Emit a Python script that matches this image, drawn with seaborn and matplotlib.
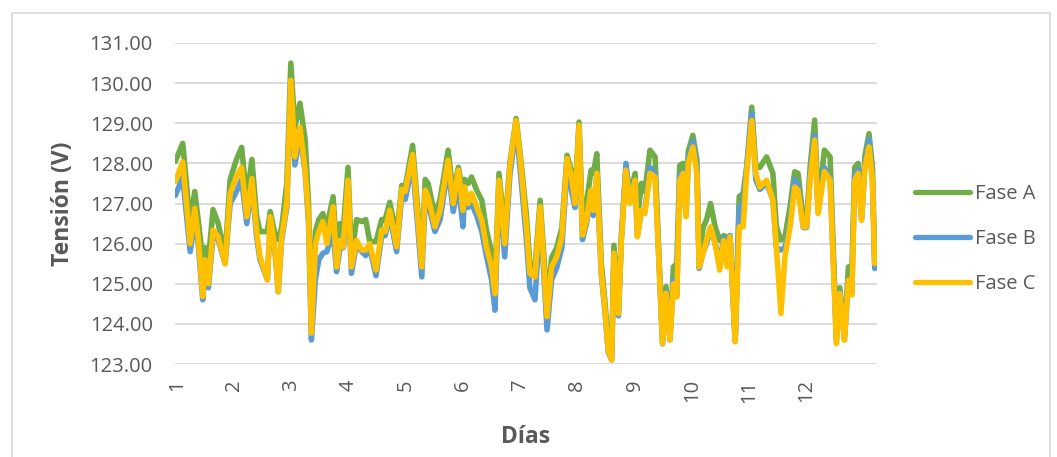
import numpy as np
import pandas as pd
import matplotlib
matplotlib.use('Agg')
import matplotlib.pyplot as plt
import matplotlib.patches as mpatches
import seaborn as sns

# Données (tension par phase, 12 jours)
dia = [0.97, 1.10, 1.23, 1.31, 1.37, 1.45, 1.49, 1.55, 1.63, 1.72, 1.84, 1.93,
       2.04, 2.13, 2.22, 2.31, 2.39, 2.45, 2.58, 2.63, 2.71, 2.77, 2.83, 2.92,
       2.99, 3.06, 3.15, 3.24, 3.30, 3.35, 3.42, 3.48, 3.55, 3.62, 3.73, 3.79,
       3.85, 3.91, 3.99, 4.05, 4.14, 4.23, 4.30, 4.37, 4.48, 4.58, 4.64, 4.72,
       4.84, 4.93, 4.99, 5.12, 5.28, 5.34, 5.39, 5.51, 5.60, 5.74, 5.83, 5.92,
       6.00, 6.03, 6.09, 6.15, 6.24, 6.33, 6.41, 6.50, 6.56, 6.63, 6.73, 6.82,
       6.93, 7.01, 7.11, 7.17, 7.26, 7.35, 7.42, 7.47, 7.55, 7.64, 7.73, 7.82,
       7.90, 7.96, 8.03, 8.09, 8.16, 8.24, 8.28, 8.34, 8.42, 8.48, 8.54, 8.60,
       8.64, 8.72, 8.77, 8.85, 8.92, 9.01, 9.05, 9.12, 9.18, 9.27, 9.36, 9.41,
       9.49, 9.55, 9.62, 9.68, 9.74, 9.79, 9.85, 9.90, 9.94, 10.02, 10.09, 10.13,
       10.20, 10.26, 10.33, 10.41, 10.49, 10.56, 10.62, 10.67, 10.76, 10.83, 10.90, 10.96,
       11.05, 11.12, 11.19, 11.31, 11.42, 11.48, 11.56, 11.63, 11.72, 11.80, 11.86, 11.95,
       12.01, 12.07, 12.15, 12.21, 12.32, 12.42, 12.53, 12.59, 12.67, 12.74, 12.80, 12.85,
       12.91, 12.97, 13.03, 13.10, 13.16, 13.20]

fase_a = [128.05, 128.5, 126.5, 127.3, 126.6, 125.6, 125.9, 125.6, 126.85, 126.5, 125.7, 127.6,
          128.1, 128.4, 127.1, 128.1, 126.7, 126.3, 126.3, 126.8, 126.25, 126.1, 126.4, 127.5,
          130.5, 128.9, 129.5, 128.6, 127.0, 123.9, 126.3, 126.6, 126.75, 126.4, 127.17, 125.8,
          126.5, 126.4, 127.9, 125.7, 126.6, 126.55, 126.6, 126.05, 126.05, 126.6, 126.6, 127.03,
          126.2, 127.45, 127.4, 128.45, 125.6, 127.6, 127.5, 126.7, 127.1, 128.33, 127.25, 127.9,
          127.3, 127.6, 127.5, 127.66, 127.33, 127.08, 126.34, 125.8, 125.0, 127.75, 126.3, 128.0,
          129.12, 128.12, 126.7, 125.5, 125.4, 127.08, 125.6, 124.4, 125.65, 125.9, 126.4, 128.2,
          127.8, 127.2, 129.03, 126.5, 127.0, 127.83, 127.75, 128.24, 125.5, 124.6, 123.5, 123.25,
          125.96, 124.45, 126.2, 127.9, 127.2, 127.75, 126.6, 127.5, 127.3, 128.33, 128.16, 126.3,
          123.6, 124.93, 123.7, 125.42, 125.5, 127.95, 128.0, 127.0, 128.3, 128.7, 128.1, 125.6,
          126.4, 126.6, 127.0, 126.42, 126.08, 126.2, 126.15, 126.2, 123.6, 127.17, 127.25, 127.9,
          129.4, 127.91, 127.9, 128.16, 127.75, 126.42, 126.09, 126.17, 126.92, 127.79, 127.75, 126.6,
          126.55, 127.9, 129.08, 126.92, 128.33, 128.16, 123.7, 124.9, 123.7, 125.42, 125.3, 127.9,
          128.0, 126.75, 128.2, 128.74, 127.9, 125.6]

fase_b = [127.2, 127.65, 125.8, 126.6, 126.0, 124.6, 125.3, 124.9, 126.2, 126.1, 125.5, 127.0,
          127.3, 127.6, 126.5, 127.5, 126.2, 125.6, 125.1, 126.5, 125.85, 124.8, 126.1, 126.9,
          130.0, 127.96, 128.7, 127.8, 126.5, 123.6, 125.1, 125.6, 125.76, 125.8, 126.3, 125.3,
          125.9, 125.9, 127.3, 125.26, 126.0, 125.8, 125.7, 125.9, 125.2, 126.2, 126.2, 126.7,
          125.8, 127.2, 127.1, 128.0, 125.17, 127.1, 127.0, 126.3, 126.6, 127.9, 126.8, 127.5,
          126.42, 127.2, 126.9, 127.0, 126.7, 126.3, 125.7, 125.1, 124.34, 127.4, 125.67, 127.7,
          128.9, 127.7, 126.09, 124.9, 124.6, 126.7, 125.1, 123.85, 125.1, 125.4, 125.9, 127.9,
          127.3, 126.9, 128.9, 126.1, 126.5, 127.2, 126.7, 127.7, 125.2, 124.35, 123.3, 123.1,
          125.6, 124.2, 126.1, 128.0, 127.15, 127.5, 126.2, 126.8, 126.8, 127.9, 127.75, 126.1,
          123.5, 124.8, 123.6, 125.1, 124.7, 127.7, 127.8, 126.7, 128.1, 128.55, 127.9, 125.38,
          125.8, 126.0, 126.4, 126.0, 125.5, 126.15, 125.6, 126.2, 123.56, 126.9, 127.0, 127.85,
          129.25, 127.6, 127.35, 127.5, 127.1, 125.9, 125.84, 125.9, 126.5, 127.6, 127.45, 126.4,
          126.4, 127.7, 128.7, 126.8, 127.9, 127.6, 123.6, 124.8, 123.6, 125.1, 124.8, 127.7,
          127.85, 126.6, 127.95, 128.6, 127.6, 125.38]

fase_c = [127.55, 128.04, 126.0, 126.88, 126.17, 124.68, 125.6, 125.0, 126.34, 126.17, 125.5, 127.25,
          127.67, 127.9, 126.67, 127.62, 126.34, 125.68, 125.1, 126.67, 125.9, 124.8, 126.17, 127.0,
          130.07, 128.16, 128.9, 127.83, 126.67, 123.77, 126.0, 126.3, 126.55, 126.0, 126.92, 125.42,
          126.08, 125.92, 127.58, 125.42, 126.08, 125.84, 125.84, 126.0, 125.34, 126.34, 126.3, 126.83,
          125.92, 127.35, 127.3, 128.22, 125.42, 127.33, 127.17, 126.42, 126.83, 128.08, 127.0, 127.83,
          126.83, 127.41, 127.0, 127.25, 126.92, 126.58, 125.92, 125.42, 124.75, 127.58, 126.0, 127.91,
          129.07, 128.0, 126.42, 125.26, 125.17, 126.92, 125.34, 124.18, 125.42, 125.67, 126.17, 128.12,
          127.66, 127.0, 128.95, 126.21, 126.58, 127.33, 126.83, 127.75, 125.26, 124.42, 123.35, 123.1,
          125.76, 124.26, 126.08, 127.83, 127.0, 127.58, 126.17, 126.83, 126.75, 127.75, 127.66, 126.08,
          123.51, 124.76, 123.6, 125.0, 124.67, 127.58, 127.75, 126.67, 128.0, 128.41, 127.75, 125.42,
          125.76, 126.08, 126.42, 126.0, 125.34, 126.08, 125.42, 126.17, 123.56, 126.42, 126.42, 127.75,
          129.07, 127.75, 127.41, 127.58, 127.08, 125.92, 124.26, 125.67, 126.42, 127.41, 127.33, 126.42,
          126.42, 127.58, 128.58, 126.75, 127.8, 127.58, 123.51, 124.76, 123.6, 125.09, 124.72, 127.58,
          127.75, 126.58, 127.9, 128.41, 127.58, 125.5]

fases = ['Fase A', 'Fase B', 'Fase C']
colores = {'Fase A': '#70AD47', 'Fase B': '#5B9BD5', 'Fase C': '#FFC000'}
dias_ticks = list(range(1, 13))
y_ticks = [123, 124, 125, 126, 127, 128, 129, 130, 131]

df = pd.DataFrame({
    'Día': dia * 3,
    'Tensión': fase_a + fase_b + fase_c,
    'Fase': ['Fase A'] * len(dia) + ['Fase B'] * len(dia) + ['Fase C'] * len(dia),
})

sns.set_theme(style='white')
plt.rcParams['font.family'] = ['Open Sans', 'DejaVu Sans']
plt.rcParams['lines.solid_joinstyle'] = 'round'
plt.rcParams['lines.solid_capstyle'] = 'round'

gris = '#595959'
fig = plt.figure(figsize=(10.57, 4.57), dpi=100)
ax = fig.add_axes([175 / 1057, 1 - 364 / 457, 702 / 1057, 321 / 457])

sns.lineplot(data=df, x='Día', y='Tensión', hue='Fase', hue_order=fases,
             palette=colores, linewidth=4.0, sort=False, estimator=None,
             ax=ax, legend=False)

ax.set_xlim(0.965, 13.24)
ax.set_ylim(123, 131)
ax.set_yticks(y_ticks)
ax.set_yticklabels([f'{v:.2f}' for v in y_ticks])
ax.set_xticks(dias_ticks)
ax.set_xticklabels([str(d) for d in dias_ticks], rotation=90)
ax.tick_params(axis='y', length=0, pad=16, labelsize=14.5, labelcolor=gris)
ax.tick_params(axis='x', length=0, pad=11, labelsize=14.5, labelcolor=gris)
ax.yaxis.grid(True, color='#D9D9D9', linewidth=1.3)
ax.xaxis.grid(False)
ax.set_axisbelow(True)
for s in ax.spines.values():
    s.set_visible(False)

ax.set_ylabel('Tensión (V)', fontsize=16.5, fontweight='bold', color=gris)
ax.yaxis.set_label_coords(-0.142, 0.5)
ax.set_xlabel('Días', fontsize=16.5, fontweight='bold', color=gris)
ax.xaxis.set_label_coords(0.5, -0.19)

handles = [plt.Line2D([], [], color=colores[f], linewidth=3.8, solid_capstyle='round') for f in fases]
fig.legend(handles, fases, loc='center left', bbox_to_anchor=(915 / 1057, 1 - 239 / 457),
           frameon=False, fontsize=14.5, labelcolor=gris, handlelength=2.75,
           handletextpad=0.25, labelspacing=1.25, borderpad=0, borderaxespad=0)

# Cadre du graphique
fig.patches.append(mpatches.Rectangle((12 / 1057, -0.05), (1050 - 12) / 1057, 1 - 13 / 457 + 0.05,
                                      transform=fig.transFigure, fill=False,
                                      edgecolor='#D9D9D9', linewidth=1.2))

fig.savefig('out.png', dpi=100)
